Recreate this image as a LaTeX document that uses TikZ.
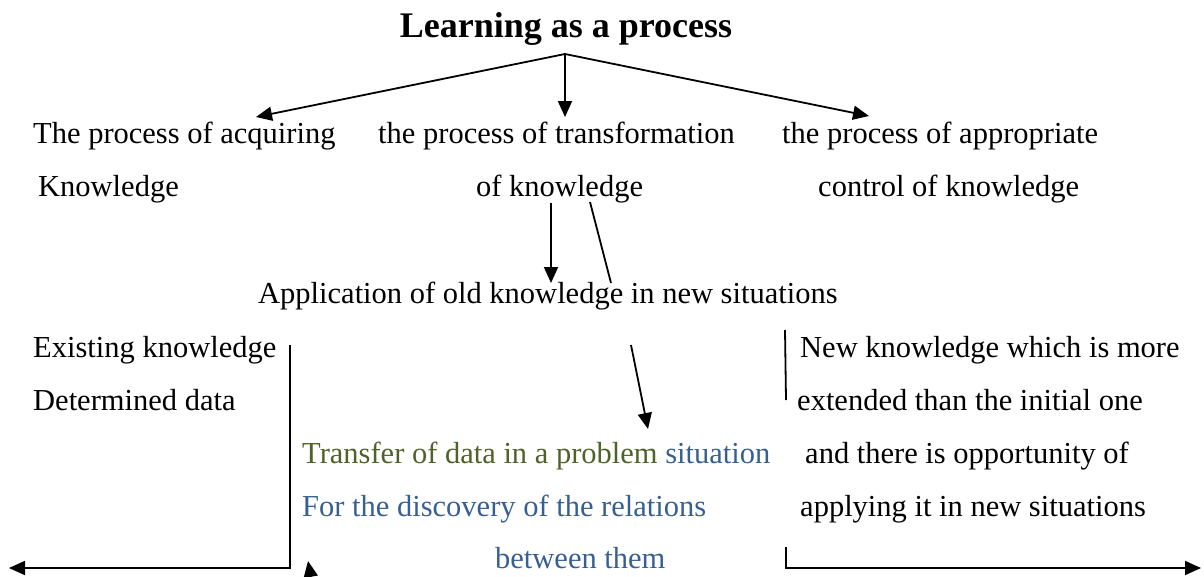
\documentclass[tikz,border=0pt]{standalone}
\usepackage{fontspec}
\setmainfont{Liberation Serif}
\usetikzlibrary{arrows.meta}
\definecolor{olivetext}{HTML}{4F6228}
\definecolor{bluetext}{HTML}{366092}
\tikzset{
  txt/.style={anchor=base west, inner sep=0pt, font=\fontsize{30.5}{36}\selectfont},
  arr/.style={line width=1.8pt, -{Triangle[length=16pt,width=14pt]}},
  ln/.style={line width=1.8pt}
}
\begin{document}
\begin{tikzpicture}[x=1pt,y=-1pt]
        \useasboundingbox (0,0) rectangle (1204,576);

        % texts
        \node [txt, anchor=base, font=\fontsize{36}{42}\selectfont\bfseries] (title) at (566,37) {Learning as a process};
        \node [txt] (acq1) at (33,143) {The process of acquiring};
        \node [txt] (tra1) at (378,143) {the process of transformation};
        \node [txt] (app1) at (782,143) {the process of appropriate};
        \node [txt] (acq2) at (38,196) {Knowledge};
        \node [txt] (tra2) at (476,196) {of knowledge};
        \node [txt] (app2) at (818,196) {control of knowledge};
        \node [txt] (old) at (258,303) {Application of old knowledge in new situations};
        \node [txt] (exist) at (33,357) {Existing knowledge};
        \node [txt] (det) at (33,410) {Determined data};
        \node [txt] (new1) at (800,357) {New knowledge which is more};
        \node [txt] (new2) at (797,410) {extended than the initial one};
        \node [txt] (trans) at (302,463) {\textcolor{olivetext}{Transfer of data in a problem} \textcolor{bluetext}{situation}};
        \node [txt] (new3) at (805,463) {and there is opportunity of};
        \node [txt, text=bluetext] (disc) at (302,516) {For the discovery of the relations};
        \node [txt] (new4) at (800,516) {applying it in new situations};
        \node [txt, text=bluetext] (betw) at (495,568) {between them};

        % connector ends
        \coordinate (top) at (565,54);
        \coordinate (acqTip) at (256,117);
        \coordinate (traTip) at (565,117);
        \coordinate (appTip) at (869,116);
        \coordinate (k1) at (551,203);
        \coordinate (k1Tip) at (551,283);
        \coordinate (k2) at (590,202);
        \coordinate (k2End) at (611,283);
        \coordinate (o1) at (631,345);
        \coordinate (o1Tip) at (648,429);
        \coordinate (lTop) at (290,345);
        \coordinate (lCorner) at (290,568);
        \coordinate (lTip) at (9,568);
        \coordinate (sBase) at (311,578);
        \coordinate (sTip) at (308,561);
        \coordinate (rBar1) at (785,330);
        \coordinate (rBar2) at (786,400);
        \coordinate (rTop) at (786,547);
        \coordinate (rCorner) at (786,568);
        \coordinate (rTip) at (1201,568);

        % connectors
        \draw [arr] (top) -- (acqTip);
        \draw [arr] (top) -- (traTip);
        \draw [arr] (top) -- (appTip);
        \draw [arr] (k1) -- (k1Tip);
        \draw [ln] (k2) -- (k2End);
        \draw [arr] (o1) -- (o1Tip);
        \draw [arr] (lTop) -- (lCorner) -- (lTip);
        \draw [arr] (sBase) -- (sTip);
        \draw [ln] (rBar1) -- (rBar2);
        \draw [arr] (rTop) -- (rCorner) -- (rTip);
\end{tikzpicture}
\end{document}
